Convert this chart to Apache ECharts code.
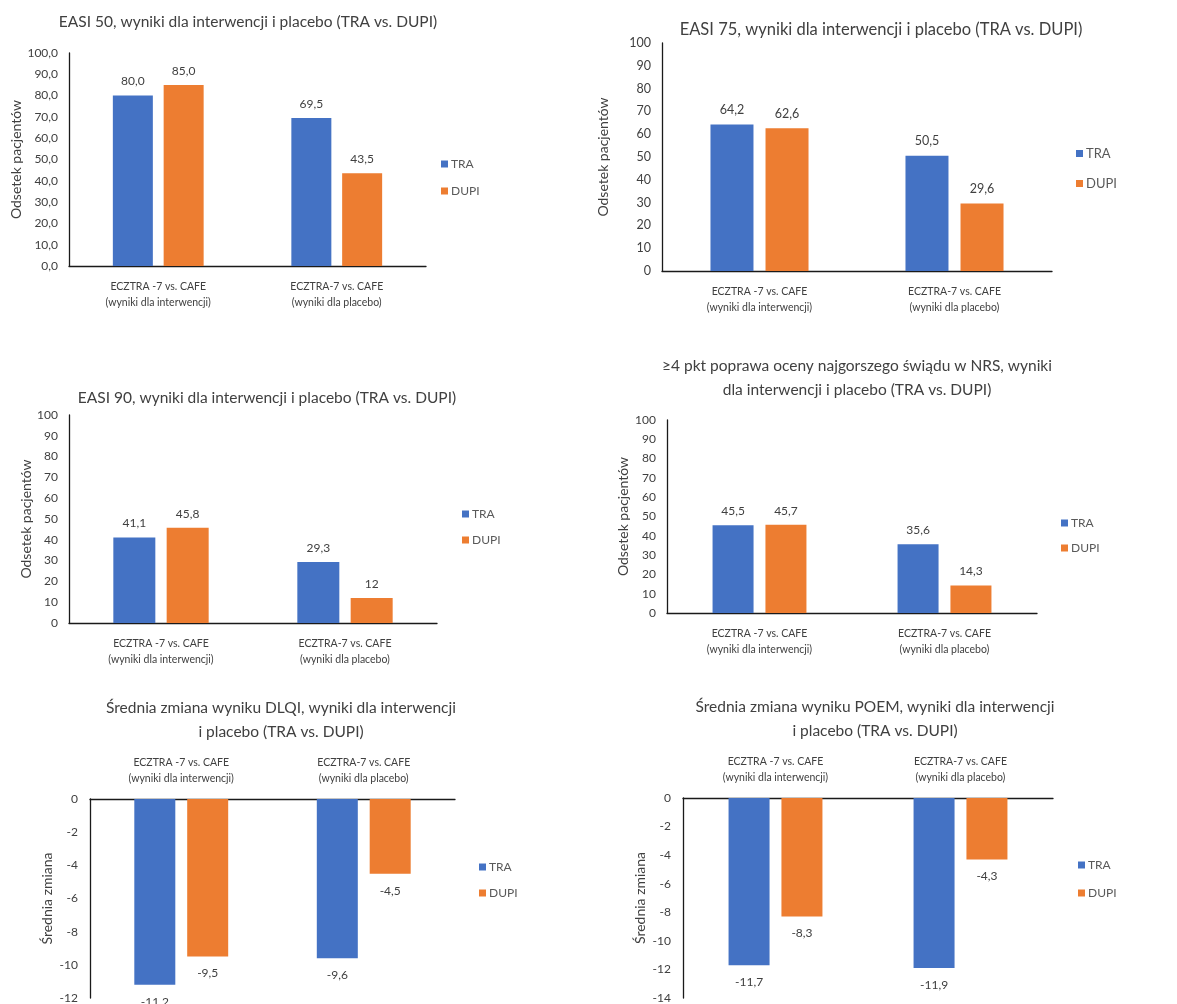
<!DOCTYPE html>
<html><head><meta charset="utf-8">
<script src="https://cdn.jsdelivr.net/npm/echarts@6/dist/echarts.min.js"></script>
<style>html,body{margin:0;padding:0;background:#fff}#c{width:1177px;height:1004px}</style>
</head><body><div id="c"></div>
<script>
const categories = ['ECZTRA -7 vs. CAFE\n(wyniki dla interwencji)', 'ECZTRA-7 vs. CAFE\n(wyniki dla placebo)'];
const seriesNames = ['TRA', 'DUPI'];
const easi50TRA = [80.0, 69.5];
const easi50DUPI = [85.0, 43.5];
const easi75TRA = [64.2, 50.5];
const easi75DUPI = [62.6, 29.6];
const easi90TRA = [41.1, 29.3];
const easi90DUPI = [45.8, 12];
const nrsTRA = [45.5, 35.6];
const nrsDUPI = [45.7, 14.3];
const dlqiTRA = [-11.2, -9.6];
const dlqiDUPI = [-9.5, -4.5];
const poemTRA = [-11.7, -11.9];
const poemDUPI = [-8.3, -4.3];
const titles = [
  'EASI 50, wyniki dla interwencji i placebo (TRA vs. DUPI)',
  'EASI 75, wyniki dla interwencji i placebo (TRA vs. DUPI)',
  'EASI 90, wyniki dla interwencji i placebo (TRA vs. DUPI)',
  '≥4 pkt poprawa oceny najgorszego świądu w NRS, wyniki\ndla interwencji i placebo (TRA vs. DUPI)',
  'Średnia zmiana wyniku DLQI, wyniki dla interwencji\ni placebo (TRA vs. DUPI)',
  'Średnia zmiana wyniku POEM, wyniki dla interwencji\ni placebo (TRA vs. DUPI)'
];
const yNames = ['Odsetek pacjentów','Odsetek pacjentów','Odsetek pacjentów','Odsetek pacjentów','Średnia zmiana','Średnia zmiana'];
const yMin = [0, 0, 0, 0, -12, -14];
const yMax = [100, 100, 100, 100, 0, 0];
const yStep = [10, 10, 10, 10, 2, 2];
const dataTRA = [easi50TRA, easi75TRA, easi90TRA, nrsTRA, dlqiTRA, poemTRA];
const dataDUPI = [easi50DUPI, easi75DUPI, easi90DUPI, nrsDUPI, dlqiDUPI, poemDUPI];

// layout
const L = [
  {g:{left:69,top:53,width:357,height:213}, bw:40, gap:'27%', tx:243, ty:5, tfs:15.5, lg:{left:436,top:153,gap:15,fs:12}, ng:44, neg:false, fs:12},
  {g:{left:662,top:43,width:390,height:228}, bw:43, gap:'28%', tx:876, ty:13, tfs:16.5, lg:{left:1071,top:142,gap:17,fs:13}, ng:52, neg:false, fs:12.5},
  {g:{left:69,top:415,width:368,height:208}, bw:42, gap:'27%', tx:262, ty:381, tfs:15.5, lg:{left:457,top:503,gap:14,fs:12}, ng:35, neg:false, fs:12},
  {g:{left:667,top:420,width:370,height:193}, bw:41, gap:'29%', tx:852, ty:349, tfs:15.5, lg:{left:1056,top:512,gap:13,fs:12}, ng:37, neg:false, fs:12},
  {g:{left:90,top:799,width:365,height:199}, bw:41, gap:'29%', tx:276, ty:691, tfs:15.5, lg:{left:474,top:856,gap:14,fs:12}, ng:36, neg:true, fs:12},
  {g:{left:683,top:798,width:370,height:200}, bw:41, gap:'29%', tx:870, ty:690, tfs:15.5, lg:{left:1073,top:854,gap:16,fs:12}, ng:36, neg:true, fs:12}
];
const FONT = 'Lato, "Open Sans", sans-serif';
const TRA_C = '#4472C4', DUPI_C = '#ED7D31';
const fmt = (i) => (v) => (i === 0 ? v.toFixed(1) : String(v)).replace('.', ',');

const option = {
  backgroundColor: '#fff',
  animation: false,
  title: [], legend: [], grid: [], xAxis: [], yAxis: [], series: []
};
L.forEach((c, i) => {
  option.title.push({text: titles[i], left: c.tx, top: c.ty, textAlign: 'center',
    textStyle: {fontFamily: FONT, fontSize: c.tfs, fontWeight: 'normal', color: '#404040', lineHeight: 24}});
  option.legend.push({data: seriesNames, orient: 'vertical', left: c.lg.left, top: c.lg.top, icon: 'rect',
    itemWidth: 7, itemHeight: 7, itemGap: c.lg.gap, selectedMode: false,
    textStyle: {fontFamily: FONT, fontSize: c.lg.fs, color: '#595959', padding: [0,0,0,-2]}});
  option.grid.push(Object.assign({containLabel: false}, c.g));
  option.xAxis.push({type: 'category', gridIndex: i, data: categories, position: c.neg ? 'top' : 'bottom',
    axisLine: {onZero: false, lineStyle: {color: '#1a1a1a', width: 1.3}}, axisTick: {show: false},
    axisLabel: {fontFamily: FONT, fontSize: 10.5, color: '#404040', lineHeight: 16, margin: c.neg ? 12 : 13, interval: 0}});
  option.yAxis.push({type: 'value', gridIndex: i, min: yMin[i], max: yMax[i], interval: yStep[i],
    name: yNames[i], nameLocation: 'middle', nameGap: c.ng, nameRotate: 90,
    nameTextStyle: {fontFamily: FONT, fontSize: 14, color: '#404040'},
    axisLine: {show: true, lineStyle: {color: '#1a1a1a', width: 1.3}}, axisTick: {show: false}, splitLine: {show: false},
    axisLabel: {fontFamily: FONT, fontSize: c.fs, color: '#404040', margin: c.neg ? 12 : 11,
      formatter: (v) => i === 0 ? v.toFixed(1).replace('.', ',') : String(v)}});
  [[dataTRA, TRA_C, 'TRA'], [dataDUPI, DUPI_C, 'DUPI']].forEach(([d, col, nm]) => {
    option.series.push({type: 'bar', name: nm, xAxisIndex: i, yAxisIndex: i, data: d[i],
      barWidth: c.bw, barGap: c.gap, itemStyle: {color: col},
      label: {show: true, position: c.neg ? 'bottom' : 'top', distance: c.neg ? 11 : 8,
        fontFamily: FONT, fontSize: c.fs, color: '#404040', formatter: (p) => fmt(i)(p.value)}});
  });
});
const chart = echarts.init(document.getElementById('c'), null, {renderer: 'canvas'});
chart.setOption(option);
</script></body></html>
